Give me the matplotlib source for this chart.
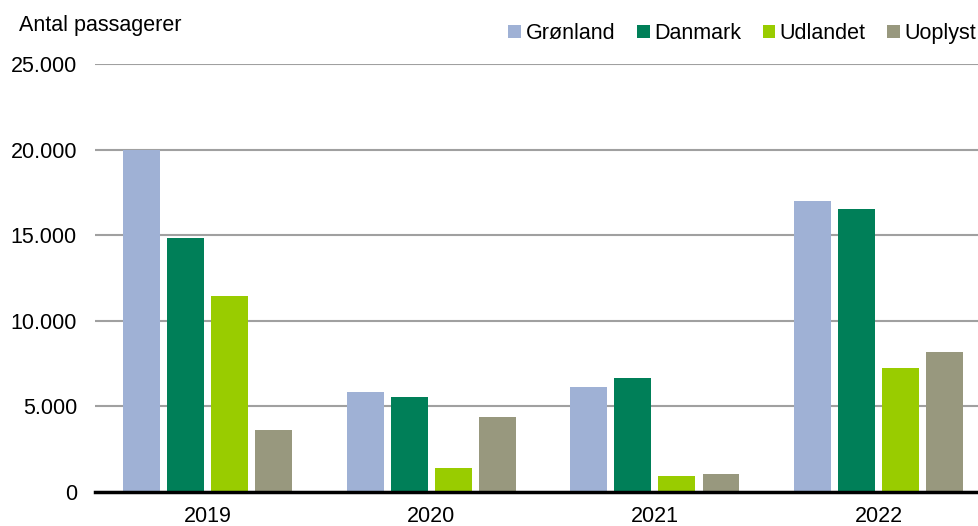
import numpy as np
from matplotlib import pyplot as plt
import matplotlib.ticker as mtick

plt.rcParams['font.family'] = ['Liberation Sans', 'DejaVu Sans']

years = ['2019', '2020', '2021', '2022']
series = ['Grønland', 'Danmark', 'Udlandet', 'Uoplyst']
values = {
    'Grønland': [19950, 5840, 6150, 17000],
    'Danmark': [14840, 5570, 6660, 16550],
    'Udlandet': [11430, 1420, 910, 7260],
    'Uoplyst': [3640, 4360, 1050, 8150],
}
colors = ['#9FB1D5', '#007F58', '#99CC00', '#98987E']


def thousands(x, pos):
    """Danish style thousands separator."""
    return f'{int(x):,}'.replace(',', '.')


fig = plt.figure(figsize=(9.79, 5.26), dpi=100)
ax = fig.add_axes([95 / 979, 1 - 492 / 526, 1 - 95 / 979, 428 / 526])

x = np.arange(len(years))
step = 0.197
width = 0.165
for i, name in enumerate(series):
    ax.bar(x + (i - 1.5) * step, values[name], width=width,
           color=colors[i], label=name, zorder=3)

ax.set_xlim(-0.503, 3.449)
ax.set_ylim(0, 25000)
ax.set_yticks(np.arange(0, 25001, 5000))
ax.yaxis.set_major_formatter(mtick.FuncFormatter(thousands))
ax.set_xticks(x)
ax.set_xticklabels(years)
ax.tick_params(axis='both', length=0, labelsize=15.5)
ax.tick_params(axis='y', pad=13)
ax.tick_params(axis='x', pad=10)

ax.grid(axis='y', color='#A0A0A0', linewidth=1.5, zorder=0)
for side in ['top', 'right', 'left']:
    ax.spines[side].set_visible(False)
ax.spines['bottom'].set_color('black')
ax.spines['bottom'].set_linewidth(2.5)
ax.spines['bottom'].set_zorder(4)

fig.text(19 / 979, 1 - 26 / 526, 'Antal passagerer', fontsize=15.5, va='center', ha='left')

fig.legend(loc='upper right', bbox_to_anchor=(1.017, 0.993), ncol=4, frameon=False,
           fontsize=15.5, handlelength=0.6, handleheight=0.6, handletextpad=0.2,
           columnspacing=1.0)

plt.savefig('out.png', dpi=100)
